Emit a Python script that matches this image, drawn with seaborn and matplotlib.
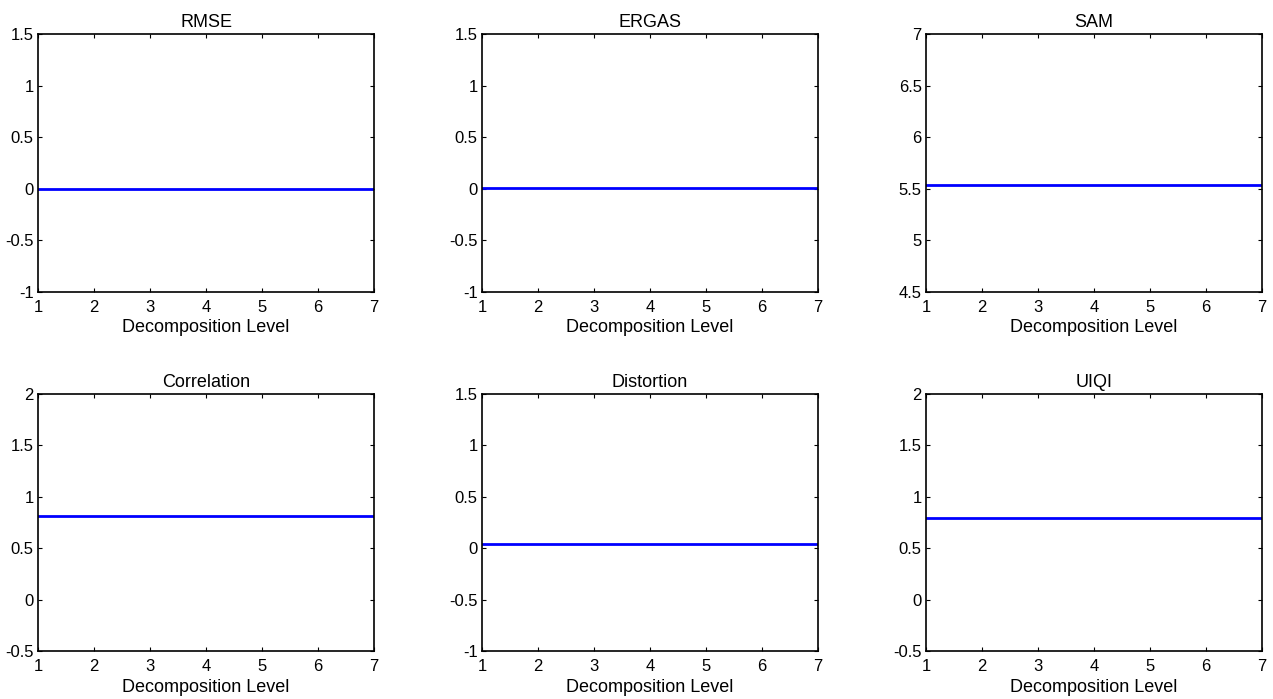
import matplotlib
matplotlib.use("Agg")
import matplotlib.pyplot as plt
import seaborn as sns
import pandas as pd
import numpy as np

# ---- data ----
levels = [1, 2, 3, 4, 5, 6, 7]
metric_names = ["RMSE", "ERGAS", "SAM", "Correlation", "Distortion", "UIQI"]
rmse_values = [0.002, 0.002, 0.002, 0.002, 0.002, 0.002, 0.002]
ergas_values = [0.012, 0.012, 0.012, 0.012, 0.012, 0.012, 0.012]
sam_values = [5.54, 5.54, 5.54, 5.54, 5.54, 5.54, 5.54]
corr_values = [0.815, 0.815, 0.815, 0.815, 0.815, 0.815, 0.815]
dist_values = [0.045, 0.045, 0.045, 0.045, 0.045, 0.045, 0.045]
uiqi_values = [0.79, 0.79, 0.79, 0.79, 0.79, 0.79, 0.79]
ylims = [(-1, 1.5), (-1, 1.5), (4.5, 7), (-0.5, 2), (-1, 1.5), (-0.5, 2)]
xlabel_text = "Decomposition Level"

series = [rmse_values, ergas_values, sam_values, corr_values, dist_values, uiqi_values]

sns.set_theme(style="white")
plt.rcParams["font.family"] = ["Liberation Sans", "DejaVu Sans"]
plt.rcParams["axes.unicode_minus"] = False
plt.rcParams["text.color"] = "black"
plt.rcParams["axes.labelcolor"] = "black"
plt.rcParams["axes.titlecolor"] = "black"

fig = plt.figure(figsize=(12.73, 6.99), dpi=100)
W, H = 1273, 699
lefts = [38, 482, 926]
width = 336
rows = [(34, 292), (394, 651)]


def fmt(v):
    return f"{v:g}"


for i, (name, vals, yl) in enumerate(zip(metric_names, series, ylims)):
    r, c = divmod(i, 3)
    top, bottom = rows[r]
    ax = fig.add_axes([lefts[c] / W, 1 - bottom / H, width / W, (bottom - top) / H])
    df = pd.DataFrame({"level": levels, "value": vals})
    sns.lineplot(data=df, x="level", y="value", ax=ax, color=(0, 0, 1), linewidth=2.0)
    ax.set_xlim(1, 7)
    ax.set_ylim(*yl)
    ax.set_xticks(levels)
    ax.set_xticklabels([str(l) for l in levels])
    yt = np.arange(yl[0], yl[1] + 0.001, 0.5)
    ax.set_yticks(yt)
    ax.set_yticklabels([fmt(round(v, 2)) for v in yt])
    ax.set_title(name, fontsize=13, pad=5, color="black")
    ax.set_xlabel(xlabel_text, fontsize=13, labelpad=3, color="black")
    ax.set_ylabel("")
    for sp in ax.spines.values():
        sp.set_visible(True)
        sp.set_color("black")
        sp.set_linewidth(1.2)
    ax.tick_params(axis="both", direction="in", length=3, width=0.8,
                   top=True, right=True, bottom=True, left=True,
                   labelsize=12, colors="black")
    ax.tick_params(axis="x", pad=6)
    ax.tick_params(axis="y", pad=3)
    ax.set_facecolor("white")

fig.savefig("out.png", dpi=100, facecolor="white")
